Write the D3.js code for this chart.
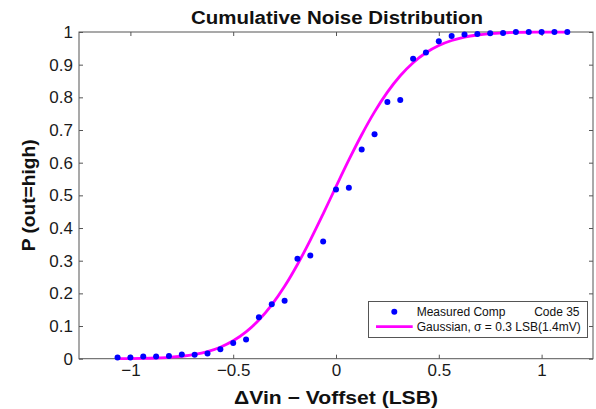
<!DOCTYPE html>
<html><head><meta charset="utf-8">
<script src="https://cdn.jsdelivr.net/npm/d3@7"></script>
<style>
html,body{margin:0;padding:0;background:#fff;}
svg{display:block;font-family:"Liberation Sans",Arial,Helvetica,sans-serif;}
</style></head>
<body><svg id="chart" width="596" height="409"></svg>
<script>
// ---- data ----
const measuredX = [-1.0625,-1.0,-0.9375,-0.875,-0.8125,-0.75,-0.6875,-0.625,-0.5625,-0.5,-0.4375,-0.375,-0.3125,-0.25,-0.1875,-0.125,-0.0625,0,0.0625,0.125,0.1875,0.25,0.3125,0.375,0.4375,0.5,0.5625,0.625,0.6875,0.75,0.8125,0.875,0.9375,1.0,1.0625,1.125];
const measuredP = [0.004,0.004,0.007,0.007,0.008,0.013,0.012,0.016,0.029,0.048,0.059,0.127,0.167,0.177,0.306,0.316,0.359,0.518,0.523,0.640,0.687,0.786,0.792,0.918,0.937,0.972,0.988,0.992,0.994,0.996,0.997,1.0,1.0,1.0,1.0,1.0];
const gaussX = measuredX;
const gaussP = [0.0003,0.0005,0.0011,0.0022,0.0041,0.0075,0.0130,0.0219,0.0353,0.0548,0.0820,0.1184,0.1648,0.2216,0.2884,0.3632,0.4436,0.5266,0.6083,0.6855,0.7555,0.8159,0.8661,0.9060,0.9364,0.9585,0.9739,0.9842,0.9908,0.9949,0.9972,0.9986,0.9993,0.9997,0.9998,0.9999];
const xTicks = [-1,-0.5,0,0.5,1];
const xTickLabels = ["\u22121","\u22120.5","0","0.5","1"];
const yTicks = [0,0.1,0.2,0.3,0.4,0.5,0.6,0.7,0.8,0.9,1];
const yTickLabels = ["0","0.1","0.2","0.3","0.4","0.5","0.6","0.7","0.8","0.9","1"];
const titleText = "Cumulative Noise Distribution";
const xLabel = "\u0394Vin \u2212 Voffset (LSB)";
const yLabel = "P (out=high)";
const legendLabels = ["Measured Comp","Code 35","Gaussian, \u03c3 = 0.3 LSB(1.4mV)"];

// ---- layout ----
const L = 79, R = 593, T = 32, B = 358.7;
const svg = d3.select("#chart");
const x = d3.scaleLinear().domain([-1.25,1.25]).range([L,R]);
const y = d3.scaleLinear().domain([0,1]).range([B,T]);
const axisColor = "#555";

// frame
svg.append("rect").attr("x",L).attr("y",T).attr("width",R-L).attr("height",B-T)
  .attr("fill","none").attr("stroke",axisColor).attr("stroke-width",1);

// axes (ticks inside)
const tickLen = 4;
const gx = svg.append("g").attr("transform",`translate(0,${B})`)
  .call(d3.axisBottom(x).tickValues(xTicks).tickSizeInner(-tickLen).tickSizeOuter(0).tickPadding(5)
    .tickFormat((d,i)=>xTickLabels[i]));
const gxTop = svg.append("g").attr("transform",`translate(0,${T})`)
  .call(d3.axisTop(x).tickValues(xTicks).tickSizeInner(-tickLen).tickSizeOuter(0).tickFormat(""));
const gy = svg.append("g").attr("transform",`translate(${L},0)`)
  .call(d3.axisLeft(y).tickValues(yTicks).tickSizeInner(-tickLen).tickSizeOuter(0).tickPadding(6)
    .tickFormat((d,i)=>yTickLabels[i]));
const gyR = svg.append("g").attr("transform",`translate(${R},0)`)
  .call(d3.axisRight(y).tickValues(yTicks).tickSizeInner(-tickLen).tickSizeOuter(0).tickFormat(""));
[gx,gxTop,gy,gyR].forEach(g=>{
  g.select(".domain").remove();
  g.selectAll(".tick line").attr("stroke",axisColor);
  g.selectAll(".tick text").attr("fill","#1a1a1a").style("font-size","17px")
   .style("font-family",'"Liberation Sans",Arial,sans-serif');
});
gx.selectAll(".tick text").attr("dy","0.71em").attr("y",5);

// gaussian curve
const line = d3.line().x((d,i)=>x(gaussX[i])).y(d=>y(d)).curve(d3.curveMonotoneX);
svg.append("path").datum(gaussP).attr("d",line)
  .attr("fill","none").attr("stroke","#ff00ff").attr("stroke-width",2.8);

// measured points
svg.append("g").selectAll("circle").data(measuredP).join("circle")
  .attr("cx",(d,i)=>x(measuredX[i])).attr("cy",d=>y(d)).attr("r",3).attr("fill","#0000ff");

// title
svg.append("text").attr("x",337).attr("y",23.5).attr("text-anchor","middle")
  .attr("textLength",292).attr("lengthAdjust","spacingAndGlyphs")
  .style("font-size","17.5px").style("font-weight","bold").attr("fill","#111").text(titleText);
// x label
svg.append("text").attr("x",336).attr("y",404).attr("text-anchor","middle")
  .attr("textLength",204).attr("lengthAdjust","spacingAndGlyphs")
  .style("font-size","18px").style("font-weight","bold").attr("fill","#111").text(xLabel);
// y label
svg.append("text").attr("transform",`translate(35,${(T+B)/2}) rotate(-90)`).attr("text-anchor","middle")
  .attr("textLength",112).attr("lengthAdjust","spacingAndGlyphs")
  .style("font-size","18px").style("font-weight","bold").attr("fill","#111").text(yLabel);

// legend
const lg = svg.append("g");
lg.append("rect").attr("x",368.5).attr("y",301.5).attr("width",219).attr("height",36)
  .attr("fill","#fff").attr("stroke",axisColor).attr("stroke-width",1);
lg.append("circle").attr("cx",394.3).attr("cy",311.7).attr("r",3).attr("fill","#0000ff");
lg.append("line").attr("x1",376).attr("x2",412.7).attr("y1",326.7).attr("y2",326.7)
  .attr("stroke","#ff00ff").attr("stroke-width",2.8);
lg.append("text").attr("x",416.7).attr("y",316).style("font-size","12px").attr("fill","#111").text(legendLabels[0]);
lg.append("text").attr("x",579.5).attr("y",316).attr("text-anchor","end").style("font-size","12px").attr("fill","#111").text(legendLabels[1]);
lg.append("text").attr("x",416.7).attr("y",331).attr("textLength",164).attr("lengthAdjust","spacingAndGlyphs")
  .style("font-size","12px").attr("fill","#111").text(legendLabels[2]);
</script></body></html>
